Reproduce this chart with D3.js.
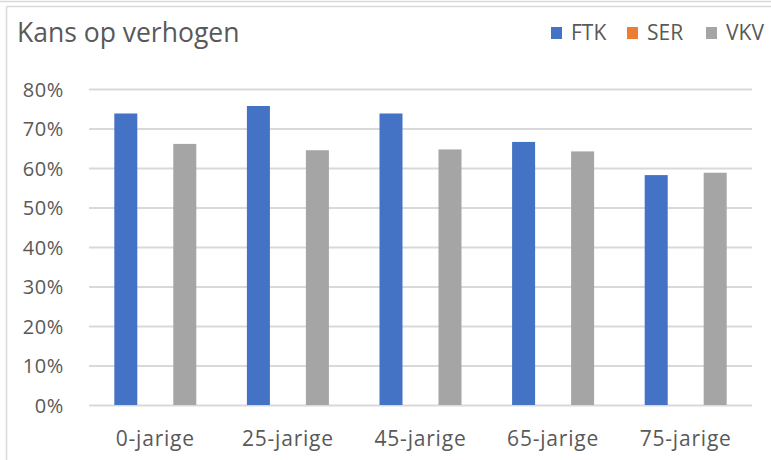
<!DOCTYPE html>
<html>
<head>
<meta charset="utf-8">
<script src="https://cdn.jsdelivr.net/npm/d3@7"></script>
<style>
  html, body { margin: 0; padding: 0; background: #fff; }
  svg { display: block; }
  text { font-family: "Open Sans", sans-serif; fill: #595959; }
</style>
</head>
<body>
<svg id="chart" width="771" height="460"></svg>
<script>
const categories = ["0-jarige", "25-jarige", "45-jarige", "65-jarige", "75-jarige"];
const seriesNames = ["FTK", "SER", "VKV"];
const ftkValues = [0.738, 0.757, 0.738, 0.666, 0.582];
const serValues = [0, 0, 0, 0, 0];
const vkvValues = [0.661, 0.645, 0.647, 0.642, 0.588];
const yTicks = [0, 0.1, 0.2, 0.3, 0.4, 0.5, 0.6, 0.7, 0.8];
const colors = ["#4472C4", "#ED7D31", "#A5A5A5"];
const title = "Kans op verhogen";

const seriesValues = [ftkValues, serValues, vkvValues];
const svg = d3.select("#chart");

// frame
svg.append("line").attr("x1", 0).attr("x2", 771).attr("y1", 1.5).attr("y2", 1.5)
  .attr("stroke", "#D9D9D9").attr("stroke-width", 1.5);
svg.append("line").attr("x1", 6.5).attr("x2", 771).attr("y1", 6.5).attr("y2", 6.5)
  .attr("stroke", "#D9D9D9").attr("stroke-width", 1.5);
svg.append("line").attr("x1", 6.5).attr("x2", 6.5).attr("y1", 6.5).attr("y2", 460)
  .attr("stroke", "#D9D9D9").attr("stroke-width", 1.5);

const margin = { left: 89, right: 752, top: 89, bottom: 405 };
const y = d3.scaleLinear().domain([0, 0.8]).range([margin.bottom, margin.top]);
const x0 = d3.scaleBand().domain(categories).range([margin.left, margin.right]).padding(0);
const groupPad = 25.3;
const x1 = d3.scaleBand().domain(seriesNames)
  .range([groupPad, x0.bandwidth() - groupPad]).paddingInner(0.22).paddingOuter(0);

// gridlines
const yAxis = d3.axisLeft(y).tickValues(yTicks).tickFormat(d3.format(".0%"))
  .tickSize(-(margin.right - margin.left)).tickPadding(25);
const gy = svg.append("g").attr("transform", `translate(${margin.left},0)`).call(yAxis);
gy.select(".domain").remove();
gy.selectAll(".tick line").attr("stroke", "#D9D9D9").attr("stroke-width", 2);
gy.selectAll(".tick text").attr("fill", "#595959").style("font-size", "20px")
  .style("letter-spacing", "0.6px")
  .style("font-family", "'Open Sans', sans-serif").attr("dy", "0.36em");

// bars
const groups = svg.append("g").selectAll("g").data(categories).join("g")
  .attr("transform", d => `translate(${x0(d)},0)`);
groups.selectAll("rect")
  .data((d, i) => seriesNames.map((s, j) => ({ s, j, v: seriesValues[j][i] })))
  .join("rect")
  .attr("x", d => x1(d.s))
  .attr("width", x1.bandwidth())
  .attr("y", d => y(d.v))
  .attr("height", d => y(0) - y(d.v))
  .attr("fill", d => colors[d.j]);

// x axis
const xAxis = d3.axisBottom(x0).tickSize(0).tickPadding(26);
const gx = svg.append("g").attr("transform", `translate(0,${margin.bottom})`).call(xAxis);
gx.select(".domain").remove();
gx.selectAll(".tick text").attr("fill", "#595959").style("font-size", "21px")
  .style("letter-spacing", "0.8px")
  .style("font-family", "'Open Sans', sans-serif");

// title
svg.append("text").attr("x", 17).attr("y", 42).text(title)
  .style("font-size", "26.5px");

// legend
const legendX = [551, 627, 706];
const lg = svg.append("g").selectAll("g").data(seriesNames).join("g")
  .attr("transform", (d, i) => `translate(${legendX[i]},0)`);
lg.append("rect").attr("x", 0).attr("y", 27).attr("width", 11).attr("height", 12)
  .attr("fill", (d, i) => colors[i]);
lg.append("text").attr("x", 20).attr("y", 39.5).text(d => d).style("font-size", "21px");
</script>
</body>
</html>
